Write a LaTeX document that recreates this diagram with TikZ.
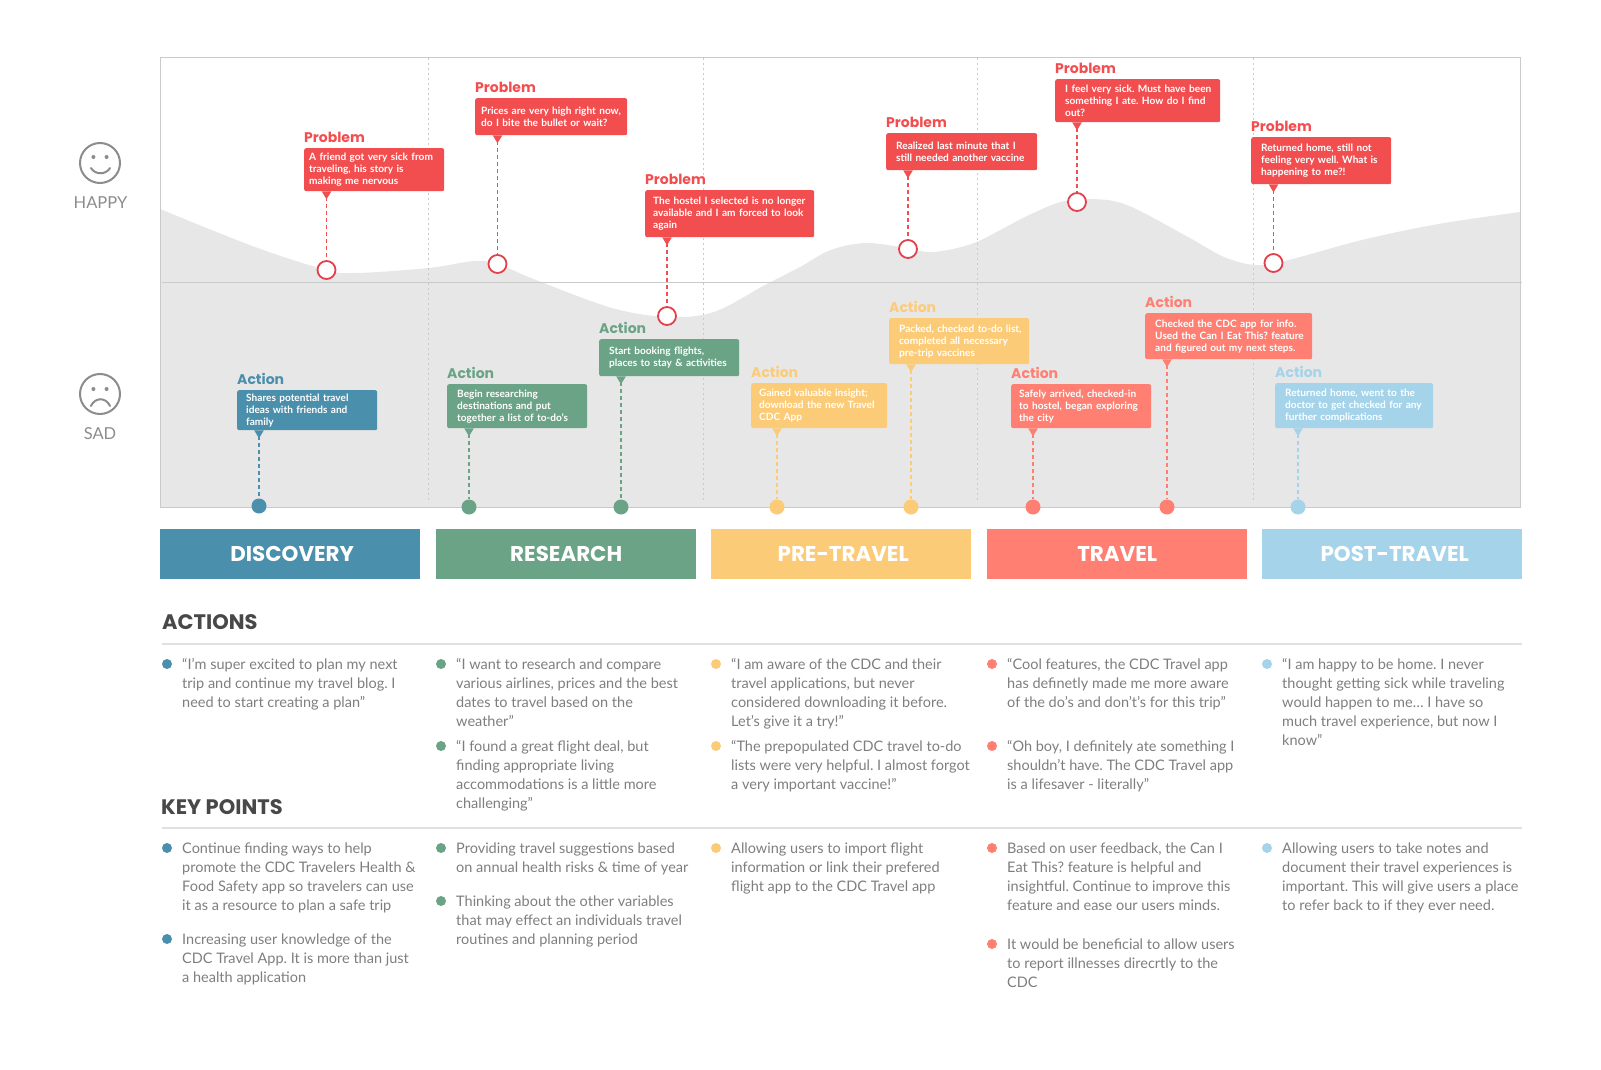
\documentclass[tikz,border=0pt]{standalone}
\usepackage{fontspec}
\setmainfont{Lato}
\newfontfamily\headfont{Poppins}
\usetikzlibrary{positioning,arrows.meta}
\definecolor{probred}{HTML}{F24E50}
\definecolor{pinred}{HTML}{E2404C}
\definecolor{discblue}{HTML}{4A8FAC}
\definecolor{resgreen}{HTML}{6AA385}
\definecolor{preyellow}{HTML}{FCCB78}
\definecolor{travred}{HTML}{FF7F72}
\definecolor{postblue}{HTML}{A4D3EA}
\definecolor{curvegray}{HTML}{E7E7E7}
\definecolor{framegray}{HTML}{CACACA}
\definecolor{rulegray}{HTML}{E0E0E0}
\definecolor{facegray}{HTML}{8C8C8C}
\definecolor{bodygray}{HTML}{7E7E7E}
\definecolor{headgray}{HTML}{484848}
\frenchspacing
\tikzstyle{callout}=[rectangle, rounded corners=2pt, anchor=north west, align=left, text=white, inner ysep=0pt, inner xsep=10pt, font=\fontsize{10.1}{12}\selectfont\bfseries, execute at begin node={\hyphenpenalty=10000\rightskip=-15pt}]
\tikzstyle{calltitle}=[inner sep=0pt, font=\headfont\fontsize{14}{16}\selectfont\bfseries]
\tikzstyle{link}=[line width=1.8pt, dash pattern=on 4pt off 3pt, {Triangle[reversed,length=8pt,width=9pt]}-]
\tikzstyle{pinring}=[circle, draw=pinred, fill=white, line width=1.8pt, minimum size=18pt, inner sep=0pt]
\tikzstyle{markdot}=[circle, minimum size=15pt, inner sep=0pt]
\tikzstyle{phaseblock}=[rectangle, anchor=north west, minimum width=260pt, minimum height=50pt, text=white, font=\headfont\fontsize{21.4}{24}\selectfont\bfseries]
\tikzstyle{heading}=[anchor=west, inner sep=0pt, text=headgray, font=\headfont\fontsize{21}{24}\selectfont\bfseries]
\tikzstyle{bullet}=[circle, minimum size=10pt, inner sep=0pt]
\tikzstyle{bodytext}=[anchor=north west, xshift=15pt, yshift=5.3pt, inner sep=0pt, align=left, text=bodygray, font=\fontsize{14.5}{19}\selectfont, execute at begin node=\strut]
\tikzstyle{face}=[circle, draw=facegray, line width=2pt, minimum size=40pt, inner sep=0pt]
\tikzstyle{facetext}=[text=facegray, inner sep=0pt, font=\fontsize{16.5}{18}\selectfont]
\pgfdeclarelayer{background}
\pgfsetlayers{background,main}
\begin{document}
\begin{tikzpicture}[x=1pt, y=-1pt, >=latex]
      \useasboundingbox (0,0) rectangle (1601,1070);
      % faces
      \node[face] (happy) at (100,163) {};
      \node[facetext] (happytext) at (100.5,203) {HAPPY};
      \fill[facegray] (93.4,157) circle (2pt) (106.6,157) circle (2pt);
      \draw[facegray, line width=2pt, line cap=round] (91,168) .. controls (95,175) and (106,175) .. (110,168);
      \node[face] (sad) at (100,394) {};
      \node[facetext] (sadtext) at (100,434) {SAD};
      \fill[facegray] (93.4,389) circle (2pt) (106.6,389) circle (2pt);
      \draw[facegray, line width=2pt, line cap=round] (91,406) .. controls (95,397) and (106,397) .. (110,406);
      % problems
      \node[callout, fill=probred, text width=130pt, inner xsep=5pt, minimum height=43pt] (prob1) at (304,148) {A friend got very sick from\\traveling, his story is\\making me nervous};
      \node[callout, fill=probred, text width=140pt, inner xsep=6pt, minimum height=37pt] (prob2) at (475,98) {Prices are very high right now,\\do I bite the bullet or wait?};
      \node[callout, fill=probred, text width=153pt, inner xsep=8pt, minimum height=47pt] (prob3) at (645,190) {The hostel I selected is no longer\\available and I am forced to look\\again};
      \node[callout, fill=probred, text width=131pt, minimum height=37pt] (prob4) at (886,133) {Realized last minute that I\\still needed another vaccine};
      \node[callout, fill=probred, text width=145pt, minimum height=43pt] (prob5) at (1055,79) {I feel very sick. Must have been\\something I ate. How do I find\\out?};
      \node[callout, fill=probred, text width=120pt, minimum height=47pt] (prob6) at (1251,137) {Returned home, still not\\feeling very well. What is\\happening to me?!};
      \node[pinring] (pin1) at (326.5,270) {};
      \node[pinring] (pin2) at (497.5,264) {};
      \node[pinring] (pin3) at (667,316) {};
      \node[pinring] (pin4) at (908,249) {};
      \node[pinring] (pin5) at (1077,202) {};
      \node[pinring] (pin6) at (1273.5,263) {};
      \node[calltitle, text=probred, above right=5pt and 0pt of prob1.north west] (prob1title) {Problem};
      \node[calltitle, text=probred, above right=5pt and 0pt of prob2.north west] (prob2title) {Problem};
      \node[calltitle, text=probred, above right=5pt and 0pt of prob3.north west] (prob3title) {Problem};
      \node[calltitle, text=probred, above right=5pt and 0pt of prob4.north west] (prob4title) {Problem};
      \node[calltitle, text=probred, above right=5pt and 0pt of prob5.north west] (prob5title) {Problem};
      \node[calltitle, text=probred, above right=5pt and 0pt of prob6.north west] (prob6title) {Problem};
      \draw[link, probred] (prob1.south -| pin1) -- (pin1);
      \draw[link, probred] (prob2.south -| pin2) -- (pin2);
      \draw[link, probred] (prob3.south -| pin3) -- (pin3);
      \draw[link, probred] (prob4.south -| pin4) -- (pin4);
      \draw[link, probred] (prob5.south -| pin5) -- (pin5);
      \draw[link, probred] (prob6.south -| pin6) -- (pin6);
      % actions
      \node[callout, fill=discblue, text width=122pt, inner xsep=9pt, minimum height=40pt] (act1) at (237,390) {Shares potential travel\\ideas with friends and\\family};
      \node[callout, fill=resgreen, text width=120pt, minimum height=44pt] (act2) at (447,384) {Begin researching\\destinations and put\\together a list of to-do's};
      \node[callout, fill=resgreen, text width=120pt, minimum height=37pt] (act3) at (599,339) {Start booking flights,\\places to stay \& activities};
      \node[callout, fill=preyellow, text width=120pt, inner xsep=8pt, minimum height=45pt] (act4) at (751,383) {Gained valuable insight;\\download the new Travel\\CDC App};
      \node[callout, fill=preyellow, text width=120pt, minimum height=46pt] (act5) at (889,318) {Packed, checked to-do list,\\completed all necessary\\pre-trip vaccines};
      \node[callout, fill=travred, text width=124pt, inner xsep=8pt, minimum height=44pt] (act6) at (1011,384) {Safely arrived, checked-in\\to hostel, began exploring\\the city};
      \node[callout, fill=travred, text width=147pt, minimum height=46pt] (act7) at (1145,313) {Checked the CDC app for info.\\Used the Can I Eat This? feature\\and figured out my next steps.};
      \node[callout, fill=postblue, text width=138pt, minimum height=45pt] (act8) at (1275,383) {Returned home, went to the\\doctor to get checked for any\\further complications};
      \node[markdot, fill=discblue] (mark1) at (259,506) {};
      \node[markdot, fill=resgreen] (mark2) at (469,507) {};
      \node[markdot, fill=resgreen] (mark3) at (621,507) {};
      \node[markdot, fill=preyellow] (mark4) at (777,507) {};
      \node[markdot, fill=preyellow] (mark5) at (911,507) {};
      \node[markdot, fill=travred] (mark6) at (1033,507) {};
      \node[markdot, fill=travred] (mark7) at (1167,507) {};
      \node[markdot, fill=postblue] (mark8) at (1298,507) {};
      \node[calltitle, text=discblue, above right=5pt and 0pt of act1.north west] (act1title) {Action};
      \node[calltitle, text=resgreen, above right=5pt and 0pt of act2.north west] (act2title) {Action};
      \node[calltitle, text=resgreen, above right=5pt and 0pt of act3.north west] (act3title) {Action};
      \node[calltitle, text=preyellow, above right=5pt and 0pt of act4.north west] (act4title) {Action};
      \node[calltitle, text=preyellow, above right=5pt and 0pt of act5.north west] (act5title) {Action};
      \node[calltitle, text=travred, above right=5pt and 0pt of act6.north west] (act6title) {Action};
      \node[calltitle, text=travred, above right=5pt and 0pt of act7.north west] (act7title) {Action};
      \node[calltitle, text=postblue, above right=5pt and 0pt of act8.north west] (act8title) {Action};
      \draw[link, discblue] (act1.south -| mark1) -- (mark1);
      \draw[link, resgreen] (act2.south -| mark2) -- (mark2);
      \draw[link, resgreen] (act3.south -| mark3) -- (mark3);
      \draw[link, preyellow] (act4.south -| mark4) -- (mark4);
      \draw[link, preyellow] (act5.south -| mark5) -- (mark5);
      \draw[link, travred] (act6.south -| mark6) -- (mark6);
      \draw[link, travred] (act7.south -| mark7) -- (mark7);
      \draw[link, postblue] (act8.south -| mark8) -- (mark8);
      % phases
      \node[phaseblock, fill=discblue] (discovery) at (160,529) {\hspace*{4pt}DISCOVERY};
      \node[phaseblock, fill=resgreen] (research) at (436,529) {RESEARCH};
      \node[phaseblock, fill=preyellow] (pretravel) at (711,529) {\hspace*{4pt}PRE-TRAVEL};
      \node[phaseblock, fill=travred] (travel) at (987,529) {TRAVEL};
      \node[phaseblock, fill=postblue] (posttravel) at (1262,529) {\hspace*{5pt}POST-TRAVEL};
      % actions text
      \node[heading] (actionshead) at (162,622) {ACTIONS};
      \draw[rulegray, line width=1.5pt] (162,644) -- (1522,644);
      \node[bullet, fill=discblue] (a1) at (167,664) {};
      \node[bodytext] (a1text) at (a1) {“I’m super excited to plan my next\\trip and continue my travel blog. I\\need to start creating a plan”};
      \node[bullet, fill=resgreen] (a2) at (441,664) {};
      \node[bodytext] (a2text) at (a2) {“I want to research and compare\\various airlines, prices and the best\\dates to travel based on the\\weather”};
      \node[bullet, fill=resgreen] (a3) at (441,746) {};
      \node[bodytext] (a3text) at (a3) {“I found a great flight deal, but\\finding appropriate living\\accommodations is a little more\\challenging”};
      \node[bullet, fill=preyellow] (a4) at (716,664) {};
      \node[bodytext] (a4text) at (a4) {“I am aware of the CDC and their\\travel applications, but never\\considered downloading it before.\\Let’s give it a try!”};
      \node[bullet, fill=preyellow] (a5) at (716,746) {};
      \node[bodytext] (a5text) at (a5) {“The prepopulated CDC travel to-do\\lists were very helpful. I almost forgot\\a very important vaccine!”};
      \node[bullet, fill=travred] (a6) at (992,664) {};
      \node[bodytext] (a6text) at (a6) {“Cool features, the CDC Travel app\\has definetly made me more aware\\of the do’s and don’t’s for this trip”};
      \node[bullet, fill=travred] (a7) at (992,746) {};
      \node[bodytext] (a7text) at (a7) {“Oh boy, I definitely ate something I\\shouldn’t have. The CDC Travel app\\is a lifesaver - literally”};
      \node[bullet, fill=postblue] (a8) at (1267,664) {};
      \node[bodytext] (a8text) at (a8) {“I am happy to be home. I never\\thought getting sick while traveling\\would happen to me… I have so\\much travel experience, but now I\\know”};
      % key points text
      \node[heading] (keyhead) at (161,807) {KEY POINTS};
      \draw[rulegray, line width=1.5pt] (162,828) -- (1522,828);
      \node[bullet, fill=discblue] (k1) at (167,848) {};
      \node[bodytext] (k1text) at (k1) {Continue finding ways to help\\promote the CDC Travelers Health \&\\Food Safety app so travelers can use\\it as a resource to plan a safe trip};
      \node[bullet, fill=discblue] (k2) at (167,939) {};
      \node[bodytext] (k2text) at (k2) {Increasing user knowledge of the\\CDC Travel App. It is more than just\\a health application};
      \node[bullet, fill=resgreen] (k3) at (441,848) {};
      \node[bodytext] (k3text) at (k3) {Providing travel suggestions based\\on annual health risks \& time of year};
      \node[bullet, fill=resgreen] (k4) at (441,901) {};
      \node[bodytext] (k4text) at (k4) {Thinking about the other variables\\that may effect an individuals travel\\routines and planning period};
      \node[bullet, fill=preyellow] (k5) at (716,848) {};
      \node[bodytext] (k5text) at (k5) {Allowing users to import flight\\information or link their prefered\\flight app to the CDC Travel app};
      \node[bullet, fill=travred] (k6) at (992,848) {};
      \node[bodytext] (k6text) at (k6) {Based on user feedback, the Can I\\Eat This? feature is helpful and\\insightful. Continue to improve this\\feature and ease our users minds.};
      \node[bullet, fill=travred] (k7) at (992,944) {};
      \node[bodytext] (k7text) at (k7) {It would be beneficial to allow users\\to report illnesses direcrtly to the\\CDC};
      \node[bullet, fill=postblue] (k8) at (1267,848) {};
      \node[bodytext] (k8text) at (k8) {Allowing users to take notes and\\document their travel experiences is\\important. This will give users a place\\to refer back to if they ever need.};
      \begin{pgfonlayer}{background}
        \fill[curvegray] (160,507) -- plot[smooth, tension=0.55] coordinates {(160,209) (255,247) (326.5,270) (357,273) (428.6,268) (474.5,261) (497.5,264) (536,280) (612,308) (668,317) (714,312) (765,285) (800,267) (830.6,250) (866,243) (907,248) (933,252) (974,243) (1025,217) (1060.5,202) (1091,199) (1127,205) (1188,237) (1224,257) (1255,265) (1285,261) (1362,240) (1438.5,224) (1520,212)} -- (1520,507) -- cycle;
        \draw[framegray, line width=0.8pt, dash pattern=on 2pt off 3pt] (428.6,58) -- (428.6,502);
        \draw[framegray, line width=0.8pt, dash pattern=on 2pt off 3pt] (703.6,58) -- (703.6,502);
        \draw[framegray, line width=0.8pt, dash pattern=on 2pt off 3pt] (977,58) -- (977,502);
        \draw[framegray, line width=0.8pt, dash pattern=on 2pt off 3pt] (1253,58) -- (1253,502);
        \draw[framegray, line width=1pt] (160,58) rectangle (1520,507);
        \draw[framegray, line width=1pt] (162,282) -- (1522,282);
      \end{pgfonlayer}
\end{tikzpicture}
\end{document}
